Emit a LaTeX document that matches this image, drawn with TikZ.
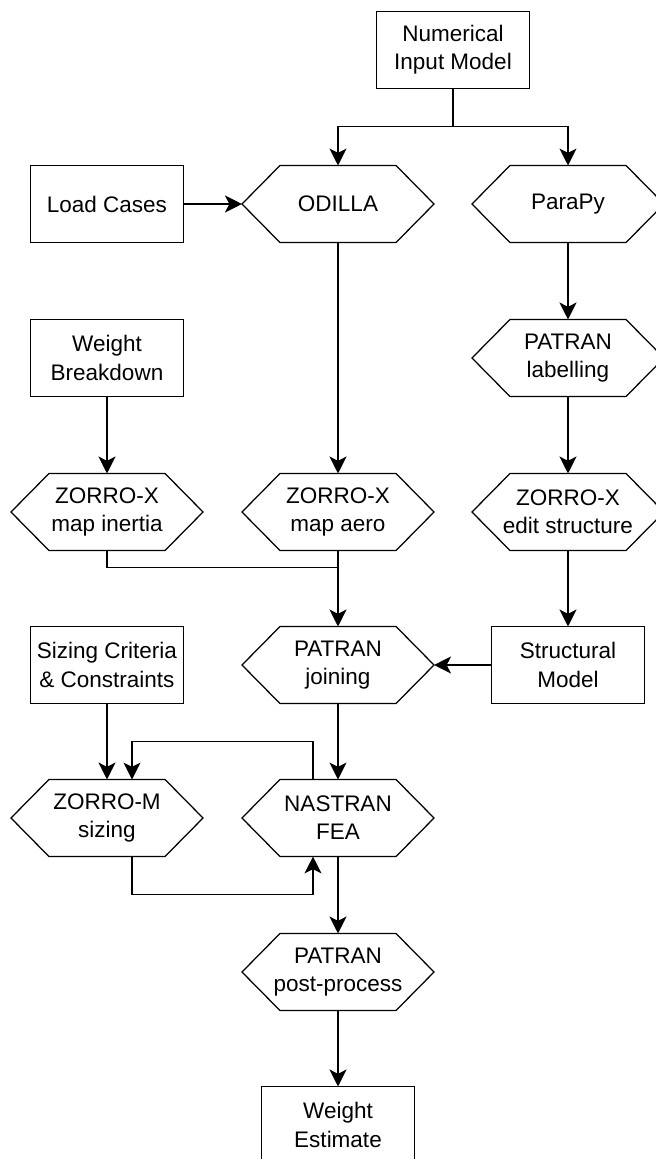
\documentclass[tikz,border=0pt]{standalone}
\usepackage{fontspec}
\setmainfont{Liberation Sans}
\usepackage{tikz}
\usetikzlibrary{calc,arrows.meta}
\tikzset{
  box/.style={draw,line width=0.9pt,minimum width=3.825cm,minimum height=1.925cm,
    align=center,inner sep=1pt,outer sep=0pt,font=\fontsize{16}{20}\selectfont},
  hexbox/.style={minimum width=4.8cm,minimum height=1.925cm,
    align=center,inner sep=1pt,outer sep=0pt,font=\fontsize{16}{20}\selectfont},
  hexline/.style={line width=0.9pt,line join=miter},
  bigarrow/.style={line width=2pt,-{Stealth[length=12pt,width=12pt,inset=3pt]}},
  treearrow/.style={line width=1.2pt,-{Stealth[length=12pt,width=12pt,inset=3pt]}},
  smallarrow/.style={line width=1pt,-{Stealth[length=12pt,width=12pt,inset=3pt]}},
  smallline/.style={line width=1pt},
}
\newcommand{\drawHex}[3]{% name, center: x,y, text
  \node[hexbox] (#1) at (#2) {#3};
  \draw[hexline] (#1.west) -- ([xshift=0.95cm]#1.north west) -- ([xshift=-0.95cm]#1.north east)
    -- (#1.east) -- ([xshift=-0.95cm]#1.south east) -- ([xshift=0.95cm]#1.south west) -- cycle;
}

\begin{document}
\begin{tikzpicture}[x=0.025cm,y=-0.025cm]
\path[use as bounding box,clip] (0,0) rectangle (656,1159);

% Input model
\node[box] (nim) at (453,50) {Numerical\\Input Model};

% Row: load cases, ODILLA, ParaPy
\node[box] (loads) at (107,204) {Load Cases};
\drawHex{odilla}{338,204}{ODILLA}
\drawHex{parapy}{568,204}{ParaPy}
\draw[treearrow] (nim.south) -- ++(0,38) coordinate (split) -| (odilla.north);
\draw[treearrow] (split) -| (parapy.north);
\draw[bigarrow] (loads) -- (odilla.west);

% Weight breakdown and labelling
\node[box] (wbreak) at (107,358) {Weight\\Breakdown};
\drawHex{labelling}{568,358}{PATRAN\\labelling}
\draw[bigarrow] (parapy) -- (labelling);

% ZORRO-X steps
\drawHex{mapinertia}{107,512}{ZORRO-X\\map inertia}
\drawHex{mapaero}{338,512}{ZORRO-X\\map aero}
\drawHex{editstruct}{568,512}{ZORRO-X\\edit structure}
\draw[bigarrow] (wbreak) -- (mapinertia);
\draw[bigarrow] (odilla) -- (mapaero);
\draw[bigarrow] (labelling) -- (editstruct);

% Joining
\node[box] (criteria) at (107,665) {Sizing Criteria\\\& Constraints};
\drawHex{joining}{338,665}{PATRAN\\joining}
\node[box] (structmodel) at (568,665) {Structural\\Model};
\draw[smallline] (mapinertia.south) -- ++(0,17) -| (mapaero.south);
\draw[bigarrow] (mapaero) -- (joining);
\draw[bigarrow] (editstruct) -- (structmodel);
\draw[bigarrow] (structmodel.west) -- (joining.east);

% Sizing loop
\drawHex{zorrom}{107,818}{ZORRO-M\\sizing}
\drawHex{nastran}{338,818}{NASTRAN\\FEA}
\draw[bigarrow] (criteria) -- (zorrom);
\draw[smallarrow] (joining) -- (nastran);
\draw[smallarrow] ($(nastran.north)+(-25,0)$) -- ++(0,-38) -| ($(zorrom.north)+(25,0)$);
\draw[smallarrow] ($(zorrom.south)+(25,0)$) -- ++(0,38) -| ($(nastran.south)+(-25,0)$);

% Output
\drawHex{postproc}{338,972}{PATRAN\\post-process}
\node[box] (westimate) at (338,1125) {Weight\\Estimate};
\draw[bigarrow] (nastran) -- (postproc);
\draw[bigarrow] (postproc) -- (westimate);
\end{tikzpicture}
\end{document}
